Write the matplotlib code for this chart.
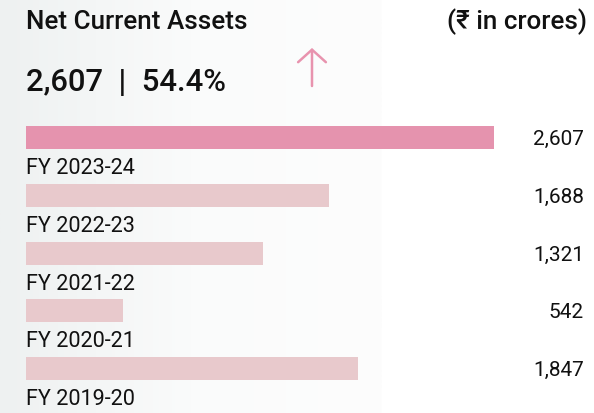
import matplotlib
matplotlib.use("Agg")
import matplotlib.pyplot as plt
import numpy as np
from matplotlib.colors import LinearSegmentedColormap

categories = ["FY 2023-24", "FY 2022-23", "FY 2021-22", "FY 2020-21", "FY 2019-20"]
values = [2607, 1688, 1321, 542, 1847]
value_labels = ["2,607", "1,688", "1,321", "542", "1,847"]
title = "Net Current Assets"
unit = "(₹ in crores)"
headline = "2,607  |  54.4%"

W, H, DPI = 594, 414, 100
fig = plt.figure(figsize=(W / DPI, H / DPI), dpi=DPI)
fig.patch.set_facecolor("white")

FONT = ["Roboto", "DejaVu Sans"]

# background gradient panel
bg = fig.add_axes([0, 0, 382 / W, 1], zorder=-5)
cmap = LinearSegmentedColormap.from_list("bg", ["#eef1f1", "#fafbfb", "#fdfdfd"])
bg.imshow(np.linspace(0, 1, 256)[None, :], aspect="auto", cmap=cmap,
          extent=[0, 1, 0, 1])
bg.axis("off")

# main axes spans the whole figure; data coordinates chosen so bars fit
ax = fig.add_axes([0, 0, 1, 1], zorder=1)
ax.patch.set_alpha(0)
left_px, right_px = 26, 494
scale = values[0] / (right_px - left_px)
ax.set_xlim(-left_px * scale, (W - left_px) * scale)
row_px = 57.75
first_px = 138.5
ax.set_ylim((H - first_px) / row_px, -first_px / row_px)
ax.axis("off")

ypos = np.arange(len(categories))
colors = ["#e593ae"] + ["#e8c9cc"] * (len(categories) - 1)
ax.barh(ypos, values, height=23 / row_px, color=colors, left=0)

val_x = (584 - left_px) * scale
for i, (cat, lab) in enumerate(zip(categories, value_labels)):
    ax.text(0, i + 0.615, cat, fontsize=15.6, family=FONT,
            color="#111111", ha="left", va="baseline")
    ax.text(val_x, i + 0.115, lab, fontsize=15, family=FONT,
            color="#111111", ha="right", va="baseline")

fig.text(26 / W, 1 - 29 / H, title, fontsize=18.7, family=FONT, weight="medium",
         color="#111111", ha="left", va="baseline")
fig.text(587 / W, 1 - 29 / H, unit, fontsize=18.7, family=FONT, weight="medium",
         color="#111111", ha="right", va="baseline")
fig.text(26 / W, 1 - 91 / H, headline, fontsize=22.3, family=FONT, weight="medium",
         color="#111111", ha="left", va="baseline")

fig.add_artist(matplotlib.patches.FancyArrowPatch(
    (312 / W, 1 - 87 / H), (312 / W, 1 - 49 / H), transform=fig.transFigure,
    arrowstyle="->,head_length=0.45,head_width=0.5", mutation_scale=20,
    color="#e893ae", lw=1.8, shrinkA=0, shrinkB=0))

fig.savefig("out.png", dpi=DPI)
